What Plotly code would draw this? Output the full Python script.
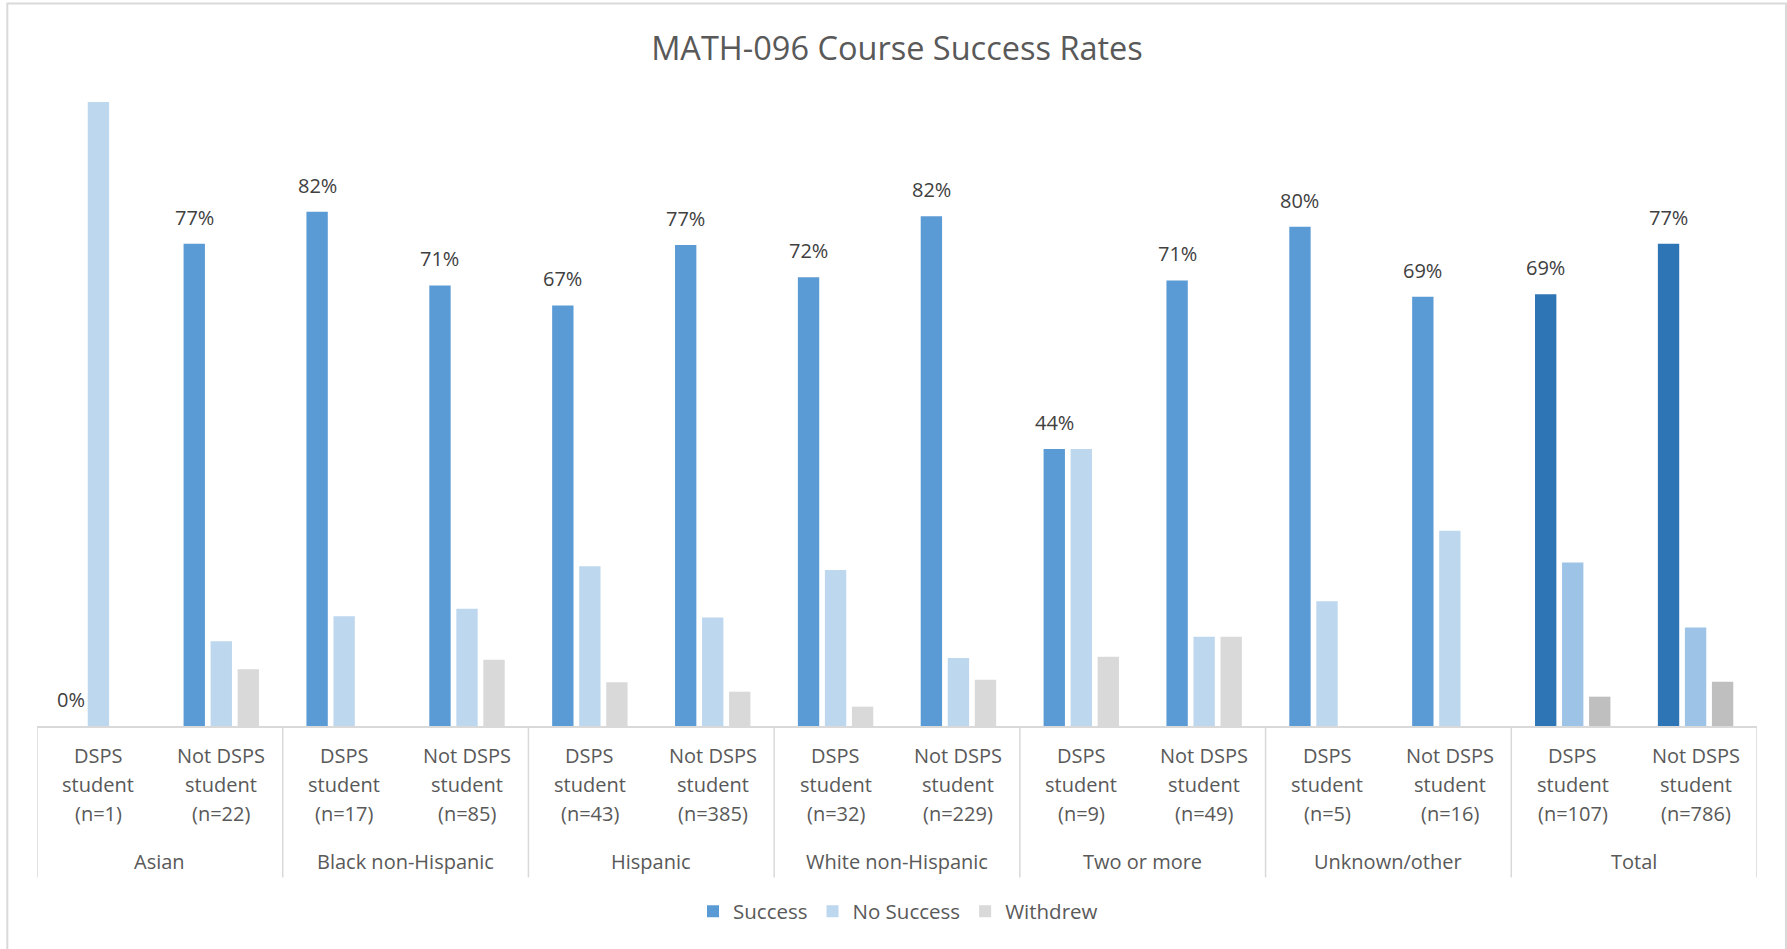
import plotly.graph_objects as go

# ---- data ----
groups = ["Asian", "Black non-Hispanic", "Hispanic", "White non-Hispanic",
          "Two or more", "Unknown/other", "Total"]
n_dsps = [1, 17, 43, 32, 9, 5, 107]
n_not = [22, 85, 385, 229, 49, 16, 786]

success = [0.0, 0.773, 0.824, 0.706, 0.674, 0.771, 0.719, 0.817, 0.444, 0.714, 0.800, 0.688, 0.692, 0.773]
no_success = [1.0, 0.136, 0.176, 0.188, 0.256, 0.174, 0.250, 0.109, 0.444, 0.143, 0.200, 0.313, 0.262, 0.158]
withdrew = [0.0, 0.091, 0.0, 0.106, 0.070, 0.055, 0.031, 0.074, 0.111, 0.143, 0.0, 0.0, 0.047, 0.071]

# ---- category axis (two levels) ----
lvl_group, lvl_sub = [], []
for g, a, b in zip(groups, n_dsps, n_not):
    lvl_group += [g, g]
    lvl_sub += [f"DSPS<br>student<br>(n={a})", f"Not DSPS<br>student<br>(n={b})"]
x = [lvl_group, lvl_sub]

# ---- styles ----
FONT = "Open Sans"
GREY = "#595959"
LINE = "#D9D9D9"
n = len(success)
is_total = [g == "Total" for g in lvl_group]
c_succ = ["#2E75B6" if t else "#5B9BD5" for t in is_total]
c_nos = ["#9DC3E6" if t else "#BDD7EE" for t in is_total]
c_wd = ["#BFBFBF" if t else "#D9D9D9" for t in is_total]

BARGAP = 0.34
GROUPGAP = 0.21

W, H = 1787, 949
L, R, T, B = 36.7, 30, 102.3, 223.3
pw, ph = W - L - R, H - T - B


def below(px):
    """paper y for a point px pixels below the category axis"""
    return -px / ph


fig = go.Figure()
fig.add_trace(go.Bar(name="Success", x=x, y=success, marker=dict(color=c_succ, line_width=0)))
fig.add_trace(go.Bar(name="No Success", x=x, y=no_success, marker=dict(color=c_nos, line_width=0)))
fig.add_trace(go.Bar(name="Withdrew", x=x, y=withdrew, marker=dict(color=c_wd, line_width=0)))

annotations = []
# data labels on Success bars (positioned via an overlaid linear axis)
slot = (1 - BARGAP) / 3
for i, v in enumerate(success):
    annotations.append(dict(
        x=i - slot, y=v, xref="x2", yref="y",
        text=f"{round(v * 100)}%", showarrow=False,
        yanchor="bottom", xanchor="center", yshift=11,
        font=dict(family=FONT, size=20, color="#404040"),
    ))

# category labels, line by line
line_off = [29.6, 58.5, 87.5]
for i, lab in enumerate(lvl_sub):
    for j, part in enumerate(lab.split("<br>")):
        annotations.append(dict(
            x=i, y=below(line_off[j]), xref="x2", yref="paper",
            text=part, showarrow=False, xanchor="center", yanchor="middle",
            font=dict(family=FONT, size=20, color=GREY),
        ))
# group labels
for k, g in enumerate(groups):
    annotations.append(dict(
        x=2 * k + 0.5, y=below(135.5), xref="x2", yref="paper",
        text=g, showarrow=False, xanchor="center", yanchor="middle",
        font=dict(family=FONT, size=20, color=GREY),
    ))

shapes = []
# group dividers
for k in range(len(groups) + 1):
    shapes.append(dict(type="line", xref="x2", yref="paper",
                       x0=2 * k - 0.5, x1=2 * k - 0.5, y0=0, y1=below(151.3),
                       line=dict(color=LINE, width=1.5)))
# chart border
shapes.append(dict(type="rect", xref="paper", yref="paper",
                   x0=(7 - L) / pw, x1=(1786 - L) / pw,
                   y0=(T + ph - 960) / ph, y1=(T + ph - 4) / ph,
                   line=dict(color=LINE, width=2), fillcolor="rgba(0,0,0,0)", layer="below"))

fig.update_layout(
    width=W, height=H,
    margin=dict(l=L, r=R, t=T, b=B, pad=0),
    paper_bgcolor="white", plot_bgcolor="white",
    barmode="group", bargap=BARGAP, bargroupgap=GROUPGAP,
    title=dict(text="MATH-096 Course Success Rates", x=897 / W, xanchor="center",
               y=1 - 48.5 / H, yanchor="middle", yref="container",
               font=dict(family=FONT, size=32.5, color=GREY)),
    font=dict(family=FONT, color=GREY),
    xaxis=dict(type="multicategory", showline=True, linecolor=LINE, linewidth=1.5,
               showticklabels=False, showdividers=False,
               ticks="", showgrid=False, zeroline=False),
    xaxis2=dict(overlaying="x", range=[-0.5, n - 0.5], visible=False, showgrid=False),
    yaxis=dict(range=[0, 1], visible=False, showgrid=False, zeroline=False),
    legend=dict(orientation="h", xref="container", yref="container",
                x=898 / W, xanchor="center", y=1 - 911.5 / H, yanchor="middle",
                itemwidth=30,
                font=dict(family=FONT, size=20.5, color=GREY), traceorder="normal"),
    annotations=annotations,
    shapes=shapes,
)

fig.write_html("out.html", config={"displayModeBar": False},
               post_script="document.body.style.margin='0';document.body.style.overflow='hidden';")
